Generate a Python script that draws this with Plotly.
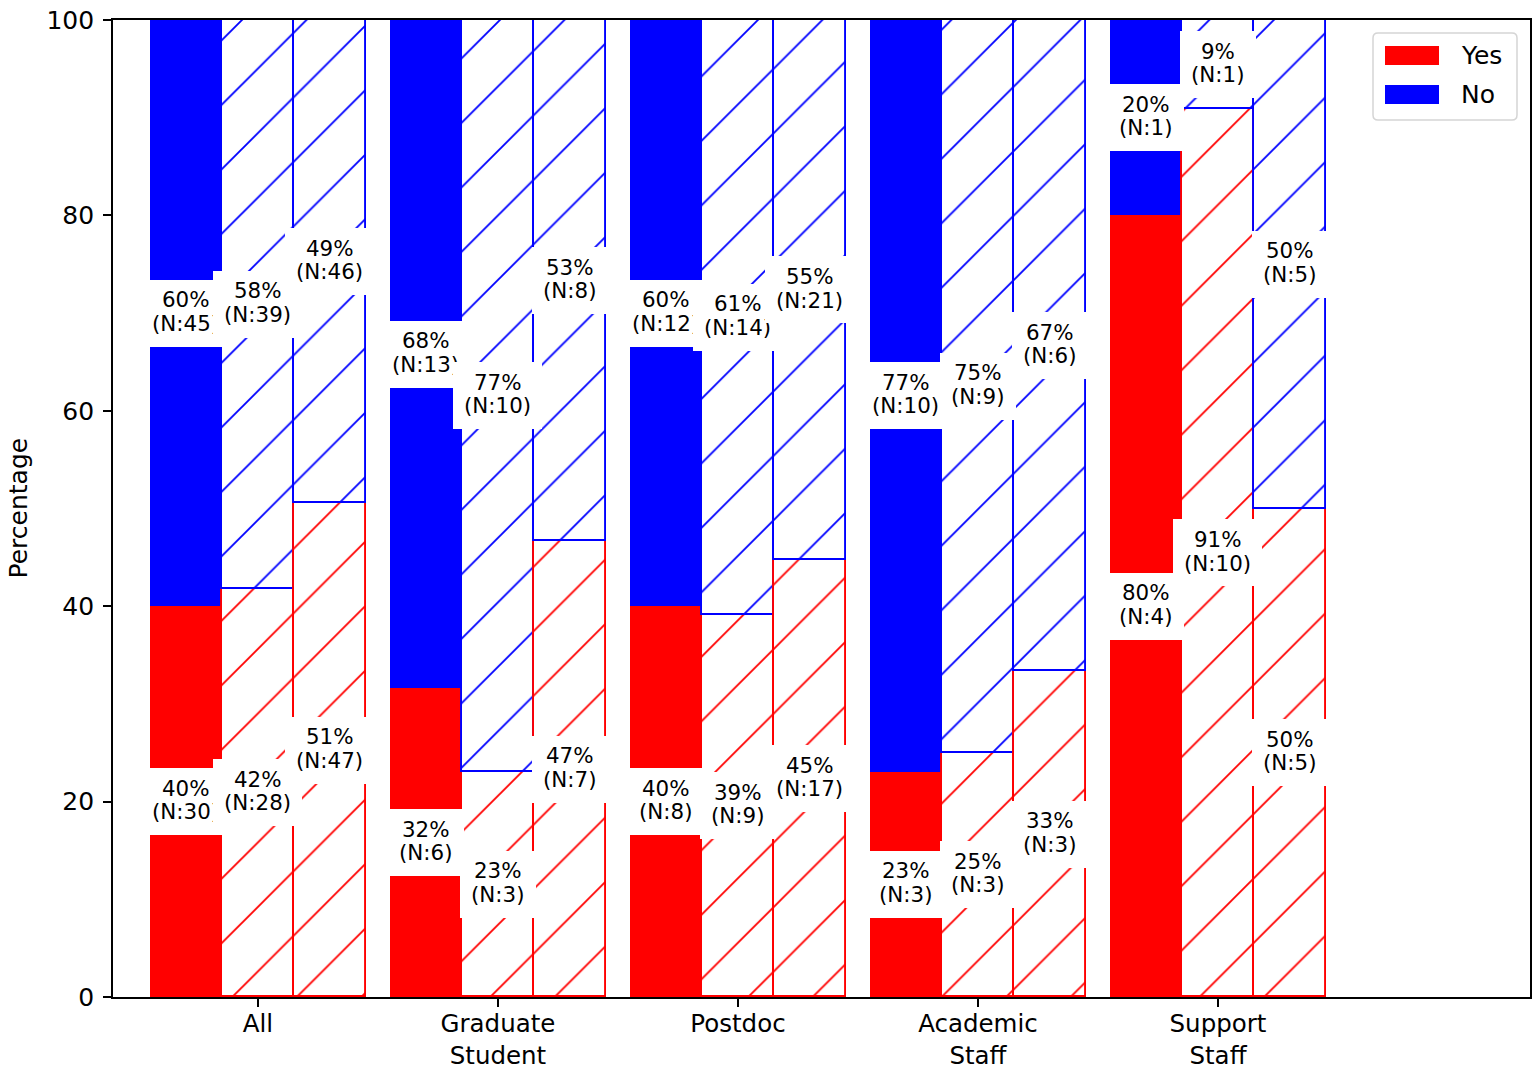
import plotly.graph_objects as go

# ---- data ----
categories = ["All", "Graduate<br>Student", "Postdoc", "Academic<br>Staff", "Support<br>Staff"]
group_pos = [0, 1, 2, 3, 4]

# counts (Yes / No) for the three bars in each group
yes_1 = [30, 6, 8, 3, 4]
no_1 = [45, 13, 12, 10, 1]
yes_2 = [28, 3, 9, 3, 10]
no_2 = [39, 10, 14, 9, 1]
yes_3 = [47, 7, 17, 3, 5]
no_3 = [46, 8, 21, 6, 5]

y_ticks = [0, 20, 40, 60, 80, 100]

# ---- styling ----
RED = "#ff0000"
BLUE = "#0000ff"
FONT = "DejaVu Sans"
LBL_SIZE = 21.4
BAR_W = 0.3
offsets = [-0.3, 0.0, 0.3]
hatched = [False, True, True]

W, H = 1538, 1071
ML, MR, MT, MB = 113, 8, 20, 74
PW, PH = W - ML - MR, H - MT - MB

# DejaVu Sans advance widths (em) for label box sizing
CHAR_W = {"%": 0.950, "(": 0.390, ")": 0.390, "N": 0.748, ":": 0.337}


def text_w(s, size):
    return sum(CHAR_W.get(c, 0.636) for c in s) * size


fig = go.Figure()
annotations = []

bars = [(yes_1, no_1), (yes_2, no_2), (yes_3, no_3)]

for bi, (yes, no) in enumerate(bars):
    xs = [g + offsets[bi] for g in group_pos]
    tot = [y + n for y, n in zip(yes, no)]
    yes_pct = [100.0 * y / t for y, t in zip(yes, tot)]
    no_pct = [100.0 * n / t for n, t in zip(no, tot)]
    for name, vals, base, col in (("Yes", yes_pct, [0] * len(xs), RED),
                                  ("No", no_pct, yes_pct, BLUE)):
        if hatched[bi]:
            marker = dict(color=col,
                          line=dict(color=col, width=1.9),
                          pattern=dict(shape="/", size=45.6, solidity=0.04,
                                       fgcolor=col, bgcolor="white",
                                       fillmode="replace"))
        else:
            marker = dict(color=col, line=dict(width=0))
        fig.add_trace(go.Bar(x=xs, y=vals, base=base, width=BAR_W,
                             marker=marker, name=name, showlegend=False,
                             hoverinfo="skip"))

# labels: white box + two text lines; later boxes cover earlier labels
for gi in range(len(group_pos)):
    for bi, (yes, no) in enumerate(bars):
        t = yes[gi] + no[gi]
        yp_ = 100.0 * yes[gi] / t
        np_ = 100.0 * no[gi] / t
        x = group_pos[gi] + offsets[bi]
        for pct, cnt, yc in ((yp_, yes[gi], yp_ / 2.0),
                             (np_, no[gi], yp_ + np_ / 2.0)):
            l1 = f"{pct:.0f}%"
            l2 = f"(N:{cnt})"
            bw = max(text_w(l1, LBL_SIZE), text_w(l2, LBL_SIZE)) + 22
            annotations.append(dict(
                x=x, y=yc, xref="x", yref="y", text=" ",
                width=bw, height=67, borderpad=0, borderwidth=0,
                showarrow=False, bgcolor="white",
                xanchor="center", yanchor="middle"))
            for txt, ys in ((l1, 13.4), (l2, -10.1)):
                annotations.append(dict(
                    x=x, y=yc, xref="x", yref="y", text=txt, yshift=ys,
                    showarrow=False,
                    font=dict(family=FONT, size=LBL_SIZE, color="black"),
                    xanchor="center", yanchor="middle"))


def xp(px):
    return (px - ML) / PW


def yp(py):
    return (MT + PH - py) / PH


shapes = []
# legend frame (rounded)
x0, x1, y0, y1 = xp(1373), xp(1517), yp(120), yp(33)
rx, ry = 5 / PW, 5 / PH
path = (f"M{x0+rx},{y0} L{x1-rx},{y0} Q{x1},{y0} {x1},{y0+ry} "
        f"L{x1},{y1-ry} Q{x1},{y1} {x1-rx},{y1} "
        f"L{x0+rx},{y1} Q{x0},{y1} {x0},{y1-ry} "
        f"L{x0},{y0+ry} Q{x0},{y0} {x0+rx},{y0} Z")
shapes.append(dict(type="path", path=path, xref="paper", yref="paper",
                   fillcolor="rgba(255,255,255,0.8)",
                   line=dict(color="#d5d5d5", width=1.5), layer="above"))
legend_items = [("Yes", RED, 46, 65), ("No", BLUE, 85, 104)]
for label, col, t_, b_ in legend_items:
    shapes.append(dict(type="rect", xref="paper", yref="paper",
                       x0=xp(1385), x1=xp(1439), y0=yp(b_), y1=yp(t_),
                       fillcolor=col, line=dict(width=0), layer="above"))
    annotations.append(dict(x=xp(1459), y=yp((t_ + b_) / 2.0), xref="paper", yref="paper",
                            text=label, showarrow=False, xanchor="left",
                            yanchor="middle",
                            font=dict(family=FONT, size=25, color="black")))

# y-axis title
annotations.append(dict(x=xp(18), y=0.5, xref="paper", yref="paper",
                        text="Percentage", textangle=-90, showarrow=False,
                        xanchor="center", yanchor="middle",
                        font=dict(family=FONT, size=25, color="black")))

fig.update_layout(
    width=W, height=H,
    margin=dict(l=ML, r=MR, t=MT, b=MB, pad=0),
    paper_bgcolor="white", plot_bgcolor="white",
    barmode="overlay", bargap=0,
    font=dict(family=FONT, size=25, color="black"),
    annotations=annotations, shapes=shapes,
    showlegend=False,
)
fig.update_xaxes(range=[-0.604, 5.3], tickvals=group_pos, ticktext=categories,
                 automargin=False, ticklabelstandoff=-4,
                 showgrid=False, zeroline=False, showline=True, mirror=True,
                 linecolor="black", linewidth=1.8, ticks="outside",
                 ticklen=8, tickwidth=1.8, tickcolor="black",
                 tickfont=dict(family=FONT, size=24.5, color="black"))
fig.update_yaxes(range=[0, 100], tickvals=y_ticks, automargin=False,
                 ticklabelstandoff=4,
                 showgrid=False, zeroline=False, showline=True, mirror=True,
                 linecolor="black", linewidth=1.8, ticks="outside",
                 ticklen=8, tickwidth=1.8, tickcolor="black",
                 tickfont=dict(family=FONT, size=25, color="black"))

fig.write_html("out.html", config={"displayModeBar": False},
               post_script="document.body.style.margin='0';")
